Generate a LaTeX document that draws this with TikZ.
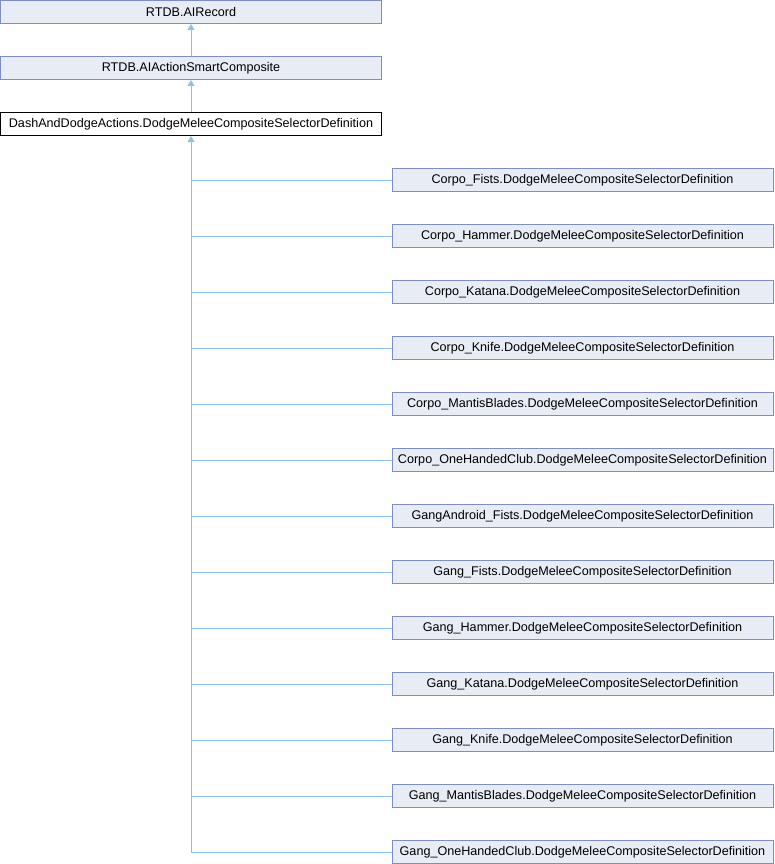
\documentclass[tikz,border=0pt]{standalone}
\usepackage{fontspec}
\setmainfont{Liberation Sans}
\usetikzlibrary{arrows.meta}
\definecolor{edgeblue}{HTML}{8CC4E8}
\definecolor{boxfill}{HTML}{E8ECF5}
\definecolor{boxline}{HTML}{7D8EC4}
\begin{document}
\begin{tikzpicture}[x=1pt,y=-1pt,
  cls/.style={draw=boxline, fill=boxfill, line width=1pt, minimum width=381pt,
    minimum height=23pt, inner sep=0pt, font=\fontsize{12.6}{15}\selectfont},
  focus/.style={cls, draw=black, fill=white},
  inherit/.style={draw=edgeblue, line width=1pt, -{Triangle[width=7pt,length=6pt]}},
  branch/.style={draw=edgeblue, line width=1pt}]
\useasboundingbox (0,0) rectangle (774,864);
% base classes
\node[cls] (rec) at (191,12) {RTDB.AIRecord};
\node[cls] (comp) at (191,68) {RTDB.AIActionSmartComposite};
\node[focus] (dash) at (191,124) {DashAndDodgeActions.DodgeMeleeCompositeSelectorDefinition};
\draw[inherit] (comp.north) -- (rec.south);
\draw[inherit] (dash.north) -- (comp.south);
% derived classes
\foreach \n [count=\i from 0] in {Corpo\_Fists,Corpo\_Hammer,Corpo\_Katana,Corpo\_Knife,
    Corpo\_MantisBlades,Corpo\_OneHandedClub,GangAndroid\_Fists,Gang\_Fists,Gang\_Hammer,
    Gang\_Katana,Gang\_Knife,Gang\_MantisBlades,Gang\_OneHandedClub}{
  \node[cls] (c\i) at (582.5,180+56*\i) {\n.DodgeMeleeCompositeSelectorDefinition};
  \draw[branch] (c\i.west) -- (c\i.west -| dash.south);
}
\coordinate (trunkend) at (191,852);
\draw[inherit] (trunkend) -- (dash.south);
\end{tikzpicture}
\end{document}
